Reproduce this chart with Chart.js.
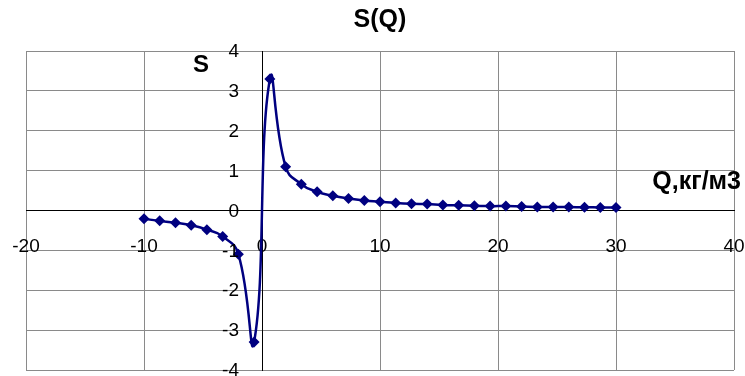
<!DOCTYPE html>
<html>
<head>
<meta charset="utf-8">
<script src="https://cdn.jsdelivr.net/npm/chart.js@4/dist/chart.umd.min.js"></script>
<style>
  html, body { margin: 0; padding: 0; background: #fff; }
  #wrap { width: 745px; height: 376px; }
</style>
</head>
<body>
<div id="wrap"><canvas id="Chart"></canvas></div>
<script>
// S(Q) values
const qValues = [-10, -8.67, -7.33, -6, -4.67, -3.33, -2, -0.67, 0.67, 2, 3.33, 4.67, 6, 7.33, 8.67,
  10, 11.33, 12.67, 14, 15.33, 16.67, 18, 19.33, 20.67, 22, 23.33, 24.67, 26, 27.33, 28.67, 30];
const sValues = [-0.21, -0.26, -0.31, -0.37, -0.48, -0.65, -1.1, -3.3, 3.3, 1.1, 0.66, 0.47, 0.37, 0.3, 0.25,
  0.22, 0.19, 0.17, 0.16, 0.14, 0.13, 0.12, 0.11, 0.11, 0.1, 0.09, 0.09, 0.085, 0.08, 0.077, 0.073];

const xTicks = [-20, -10, 0, 10, 20, 30, 40];
const yTicks = [-4, -3, -2, -1, 0, 1, 2, 3, 4];

const points = qValues.map(function (q, i) { return {x: q, y: sValues[i]}; });

const FONT = '"Liberation Sans", Arial, sans-serif';

// y tick labels sit left of the axis line, Chart.js puts them right on it
// when the axis is positioned by value, so they are drawn here
const axisNames = {
  id: 'axisNames',
  afterDraw: function (chart) {
    const c = chart.ctx;
    const xs = chart.scales.x, ys = chart.scales.y;
    const axisX = xs.getPixelForValue(0);
    c.save();
    c.fillStyle = '#000';
    c.font = '19px ' + FONT;
    c.textAlign = 'right';
    c.textBaseline = 'middle';
    ys.ticks.forEach(function (t) {
      c.fillText(String(t.value), axisX - 23, ys.getPixelForValue(t.value) + 1);
    });
    c.font = 'bold 24px ' + FONT;
    c.textAlign = 'center';
    c.fillText('S', axisX - 61, ys.getPixelForValue(4) + 14);
    c.textAlign = 'right';
    c.font = 'bold 25px ' + FONT;
    c.fillText('Q,кг/м3', chart.width - 4, ys.getPixelForValue(0) - 28);
    c.restore();
  }
};

// no extra room for tick labels, the axes sit inside the plot
function noPadding(scale) {
  scale.paddingTop = 0;
  scale.paddingBottom = 0;
  scale.paddingLeft = 0;
  scale.paddingRight = 0;
}

let ctx = document.getElementById('Chart').getContext('2d');
let myChart = new Chart(ctx, {
  type: 'scatter',
  data: {
    datasets: [{
      label: 'S(Q)',
      data: points,
      showLine: true,
      tension: 0.5,
      borderColor: '#000080',
      borderWidth: 2.5,
      backgroundColor: '#000080',
      pointStyle: 'rectRot',
      pointRadius: 5.5,
      pointHoverRadius: 5.5,
      pointBorderWidth: 0
    }]
  },
  options: {
    responsive: true,
    maintainAspectRatio: false,
    animation: false,
    layout: { padding: { left: 26, right: 11, bottom: 6, top: 0 } },
    plugins: {
      legend: { display: false },
      tooltip: { enabled: false },
      title: {
        display: true,
        text: 'S(Q)',
        color: '#000',
        font: { family: FONT, size: 25, weight: 'bold' },
        padding: { top: 5, bottom: 16 }
      }
    },
    scales: {
      x: {
        type: 'linear',
        position: { y: 0 },
        min: -20,
        max: 40,
        afterFit: noPadding,
        afterBuildTicks: function (scale) {
          scale.ticks = xTicks.map(function (v) { return {value: v}; });
        },
        grid: { color: '#8a8a8a', lineWidth: 1, tickLength: 6, tickColor: '#8a8a8a' },
        border: { color: '#000', width: 1 },
        ticks: { color: '#000', font: { family: FONT, size: 19 }, padding: 19, maxRotation: 0 }
      },
      y: {
        type: 'linear',
        position: { x: 0 },
        min: -4,
        max: 4,
        afterFit: noPadding,
        afterBuildTicks: function (scale) {
          scale.ticks = yTicks.map(function (v) { return {value: v}; });
        },
        grid: { color: '#8a8a8a', lineWidth: 1, tickLength: 6, tickColor: '#8a8a8a' },
        border: { color: '#000', width: 1 },
        ticks: { display: false }
      }
    }
  },
  plugins: [axisNames]
});
</script>
</body>
</html>
